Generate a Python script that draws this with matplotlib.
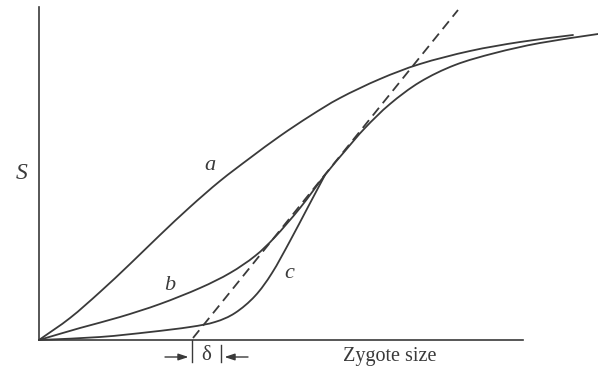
import matplotlib
matplotlib.use("Agg")
import matplotlib.pyplot as plt
from matplotlib.path import Path
from matplotlib.patches import PathPatch

# Survival S against zygote size for three strategies (schematic units)
a_x = [0, 3.1, 6.1, 9.1, 12.1, 15.1, 18.1, 21.1, 24.1, 27.1, 30.1, 34.1, 38.1,
       43.1, 48.1, 53.4]
a_y = [0, 2.2, 4.8, 7.6, 10.5, 13.3, 15.9, 18.2, 20.4, 22.4, 24.2, 26.1, 27.6,
       28.9, 29.8, 30.5]

b_x = [0, 4.1, 8.1, 12.1, 16.1, 19.1, 21.6, 23.6, 26.1, 28.6]
b_y = [0, 1.2, 2.3, 3.6, 5.2, 6.7, 8.4, 10.3, 13.2, 16.5]

c_x = [0, 6.1, 11.1, 15.1, 17.6, 19.6, 21.6, 23.3, 25.1, 26.9, 28.6]
c_y = [0, 0.3, 0.8, 1.3, 1.8, 2.7, 4.4, 6.7, 9.9, 13.3, 16.5]

# common upper branch shared by b and c
bc_x = [28.6, 30.6, 32.6, 35.1, 38.1, 41.6, 45.6, 50.1, 55.9]
bc_y = [16.5, 18.9, 21.2, 23.6, 25.8, 27.5, 28.7, 29.7, 30.6]

# tangent line and its intercept offset delta
tan_x = [15.4, 41.9]
tan_y = [0.2, 33.0]
delta_left = 15.3
delta_right = 18.2

x_max, y_max = 55.9, 33.3
x_axis_end = 48.4

ink = "#3a3a3a"
serif = "Liberation Serif"


def smooth_path(xs, ys):
    """Cubic Bezier path passing through every given point (Catmull-Rom tangents)."""
    pts = list(zip(xs, ys))
    n = len(pts)
    # reflected end points so the curve leaves and enters its ends straight
    first = (2 * pts[0][0] - pts[1][0], 2 * pts[0][1] - pts[1][1])
    last = (2 * pts[-1][0] - pts[-2][0], 2 * pts[-1][1] - pts[-2][1])
    ext = [first] + pts + [last]
    verts = [pts[0]]
    codes = [Path.MOVETO]
    for i in range(1, n):
        p0, p1, p2, p3 = ext[i - 1], ext[i], ext[i + 1], ext[i + 2]
        c1 = (p1[0] + (p2[0] - p0[0]) / 6, p1[1] + (p2[1] - p0[1]) / 6)
        c2 = (p2[0] - (p3[0] - p1[0]) / 6, p2[1] - (p3[1] - p1[1]) / 6)
        verts += [c1, c2, p2]
        codes += [Path.CURVE4] * 3
    return Path(verts, codes)


def draw_curve(ax, xs, ys, **kw):
    patch = PathPatch(smooth_path(xs, ys), facecolor="none", edgecolor=ink,
                      clip_on=False, capstyle="round", **kw)
    ax.add_patch(patch)


W, H = 598, 369
fig = plt.figure(figsize=(W / 100, H / 100), dpi=100)
ax = fig.add_axes([39 / W, (H - 340) / H, (W - 39) / W, (340 - 7) / H])
ax.set_xlim(0, x_max)
ax.set_ylim(0, y_max)
ax.set_xticks([])
ax.set_yticks([])
for s in ("top", "right"):
    ax.spines[s].set_visible(False)
for s in ("left", "bottom"):
    ax.spines[s].set_color(ink)
    ax.spines[s].set_linewidth(1.2)
ax.spines["bottom"].set_bounds(0, x_axis_end)
ax.patch.set_alpha(0)

lw = 1.3
draw_curve(ax, a_x, a_y, lw=lw)
draw_curve(ax, b_x + bc_x[1:], b_y + bc_y[1:], lw=lw)
draw_curve(ax, c_x, c_y, lw=lw)
ax.plot(tan_x, tan_y, color=ink, lw=lw, dashes=(5.5, 3.3), clip_on=False)

# labels
ax.text(-1.7, 16.6, "S", family=serif, style="italic", fontsize=17,
        color=ink, ha="center", va="center")
ax.text(17.1, 17.4, "a", family=serif, style="italic", fontsize=16,
        color=ink, ha="center", va="center")
ax.text(13.1, 5.5, "b", family=serif, style="italic", fontsize=16,
        color=ink, ha="center", va="center")
ax.text(25.0, 6.7, "c", family=serif, style="italic", fontsize=16,
        color=ink, ha="center", va="center")
ax.text(35.1, -1.6, "Zygote size", family=serif, fontsize=14.5,
        color=ink, ha="center", va="center", clip_on=False)

# delta marker below the axis
ax.plot([delta_left, delta_left], [0, -2.2], color=ink, lw=1.0, clip_on=False)
ax.plot([delta_right, delta_right], [-0.5, -2.2], color=ink, lw=1.0, clip_on=False)
ax.text((delta_left + delta_right) / 2, -1.5, "δ", family=serif, fontsize=15,
        color=ink, ha="center", va="center")
arrow = dict(arrowstyle="-|>,head_length=0.6,head_width=0.2", color=ink, lw=1.0,
             shrinkA=0, shrinkB=0)
ax.annotate("", xy=(delta_left - 0.35, -1.7), xytext=(delta_left - 2.7, -1.7),
            arrowprops=arrow, annotation_clip=False)
ax.annotate("", xy=(delta_right + 0.35, -1.7), xytext=(delta_right + 2.7, -1.7),
            arrowprops=arrow, annotation_clip=False)

fig.savefig("out.png", dpi=100, facecolor="white")
